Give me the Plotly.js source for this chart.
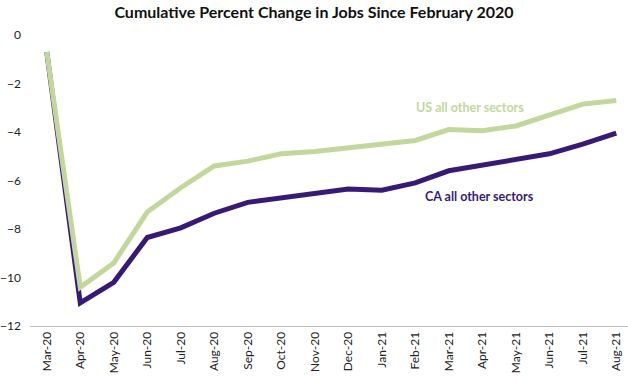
<!DOCTYPE html>
<html>
<head>
<meta charset="utf-8">
<script src="https://cdn.plot.ly/plotly-3.0.1.min.js"></script>
<style>html,body{margin:0;padding:0;background:#fff;}#chart{width:628px;height:380px;}</style>
</head>
<body>
<div id="chart"></div>
<script>
var months = ["Mar-20","Apr-20","May-20","Jun-20","Jul-20","Aug-20","Sep-20","Oct-20","Nov-20","Dec-20","Jan-21","Feb-21","Mar-21","Apr-21","May-21","Jun-21","Jul-21","Aug-21"];
var usOther = [-0.7,-10.4,-9.4,-7.3,-6.3,-5.4,-5.2,-4.9,-4.8,-4.65,-4.45,-4.35,-3.9,-3.95,-3.75,-3.3,-2.85,-2.7];
var caOther = [-0.7,-11.05,-10.2,-8.35,-7.95,-7.35,-6.9,-6.7,-6.55,-6.35,-6.4,-6.1,-5.6,-5.35,-5.1,-4.9,-4.5,-4.05];
var yTicks = [0,-2,-4,-6,-8,-10,-12];
var font = "Lato, 'Open Sans', sans-serif";

var traces = [
  {x: months, y: caOther, mode: "lines", name: "CA all other sectors", line: {color: "#371a75", width: 5}},
  {x: months, y: usOther, mode: "lines", name: "US all other sectors", line: {color: "#c3d69b", width: 5}}
];
var layout = {
  width: 628, height: 380,
  margin: {l: 30, r: 0, t: 35, b: 54},
  paper_bgcolor: "#fff", plot_bgcolor: "#fff",
  showlegend: false,
  font: {family: font, size: 12, color: "#222"},
  title: {text: "<b>Cumulative Percent Change in Jobs Since February 2020</b>", font: {family: font, size: 16, color: "#111"}, x: 0.5, xanchor: "center", y: 0.968, yanchor: "middle"},
  xaxis: {type: "category", range: [-0.5, 17.35], showgrid: false, showline: true, linecolor: "#bfbfbf", linewidth: 1, ticks: "", tickangle: -90, tickfont: {family: font, size: 12, color: "#222"}, zeroline: false, fixedrange: true},
  yaxis: {range: [-12, 0], tickvals: yTicks, showgrid: false, showline: false, zeroline: false, ticks: "", ticklabelstandoff: 8, tickfont: {family: font, size: 12, color: "#222"}, fixedrange: true},
  annotations: [
    {x: 12.63, y: -3.01, xref: "x", yref: "y", text: "<b>US all other sectors</b>", showarrow: false, font: {family: font, size: 12.5, color: "#c3d69b"}},
    {x: 12.93, y: -6.64, xref: "x", yref: "y", text: "<b>CA all other sectors</b>", showarrow: false, font: {family: font, size: 12.5, color: "#371a75"}}
  ]
};
Plotly.newPlot("chart", traces, layout, {displayModeBar: false, staticPlot: true});
</script>
</body>
</html>
